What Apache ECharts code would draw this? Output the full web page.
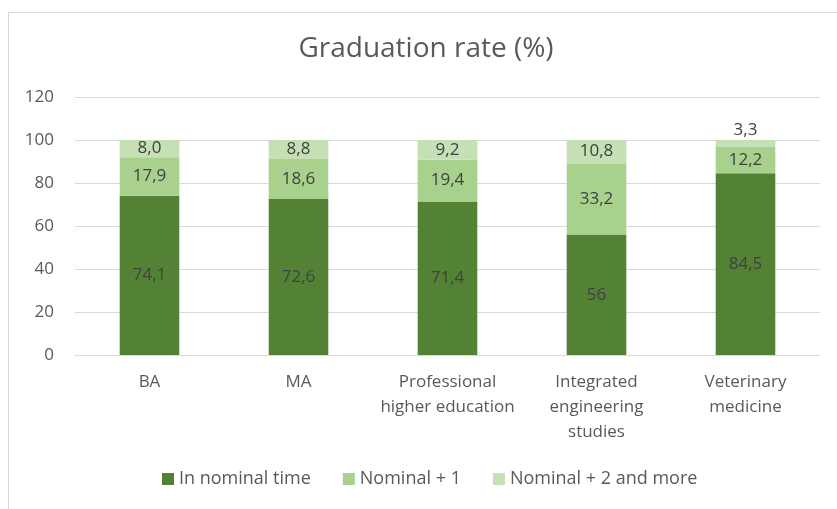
<!DOCTYPE html>
<html>
<head>
<meta charset="utf-8">
<script src="https://cdn.jsdelivr.net/npm/echarts@6/dist/echarts.min.js"></script>
<style>
  html, body { margin: 0; padding: 0; background: #ffffff; }
  #chart { width: 837px; height: 509px; }
</style>
</head>
<body>
<div id="chart"></div>
<script>
// Study programmes on the x axis
const categories = ['BA', 'MA', 'Professional\nhigher education', 'Integrated\nengineering\nstudies', 'Veterinary\nmedicine'];

// Shares of graduates (%), written as they are printed in the labels
const inNominalTime = ['74.1', '72.6', '71.4', '56', '84.5'];
const nominalPlusOne = ['17.9', '18.6', '19.4', '33.2', '12.2'];
const nominalPlusTwo = ['8.0', '8.8', '9.2', '10.8', '3.3'];

const seriesNames = ['In nominal time', 'Nominal + 1', 'Nominal + 2 and more'];
const yTicks = { min: 0, max: 120, interval: 20 };

const FONT = 'Open Sans';
const LABEL_COLOR = '#404040';
const AXIS_TEXT = '#595959';

function makeSeries(name, raw, color, topLabelIdx) {
  return {
    name: name,
    type: 'bar',
    stack: 'total',
    barWidth: '40%',
    itemStyle: { color: color },
    emphasis: { disabled: true },
    data: raw.map((v, i) => {
      const item = { value: Number(v) };
      if (topLabelIdx !== undefined && topLabelIdx.includes(i)) {
        item.label = { position: 'top', distance: 1 };
      }
      return item;
    }),
    label: {
      show: true,
      position: 'inside',
      color: LABEL_COLOR,
      fontFamily: FONT,
      fontSize: 17,
      formatter: p => raw[p.dataIndex].replace('.', ',')
    }
  };
}

const chart = echarts.init(document.getElementById('chart'), null, { renderer: 'canvas' });
chart.setOption({
  animation: false,
  backgroundColor: '#ffffff',
  graphic: [{
    type: 'rect',
    shape: { x: 8.5, y: 12.5, width: 900, height: 600 },
    style: { fill: 'none', stroke: '#d9d9d9', lineWidth: 1 },
    silent: true,
    z: -10
  }, {
    // chart title
    type: 'text',
    x: 426,
    y: 49,
    silent: true,
    style: {
      text: 'Graduation rate (%)',
      align: 'center',
      verticalAlign: 'middle',
      font: '28px "Open Sans"',
      fill: '#595959'
    }
  }],
  legend: {
    top: 470,
    left: 162,
    padding: 0,
    itemWidth: 12,
    itemHeight: 12,
    itemGap: 32,
    icon: 'rect',
    textStyle: { fontFamily: FONT, fontSize: 18, color: AXIS_TEXT },
    data: seriesNames
  },
  grid: { left: 75, right: 17, top: 97, bottom: 154 },
  xAxis: {
    type: 'category',
    data: categories,
    axisLine: { show: true, lineStyle: { color: '#d9d9d9' } },
    axisTick: { show: false },
    axisLabel: {
      fontFamily: FONT, fontSize: 17, color: AXIS_TEXT, margin: 15, lineHeight: 25, interval: 0
    }
  },
  yAxis: {
    type: 'value',
    min: yTicks.min,
    max: yTicks.max,
    interval: yTicks.interval,
    axisLine: { show: false },
    axisTick: { show: false },
    splitLine: { lineStyle: { color: '#d9d9d9', width: 1 } },
    axisLabel: { fontFamily: FONT, fontSize: 17, color: AXIS_TEXT, margin: 21 }
  },
  series: [
    makeSeries(seriesNames[0], inNominalTime, '#548235'),
    makeSeries(seriesNames[1], nominalPlusOne, '#a9d18e'),
    makeSeries(seriesNames[2], nominalPlusTwo, '#c5e0b4', [4])
  ]
});
</script>
</body>
</html>
